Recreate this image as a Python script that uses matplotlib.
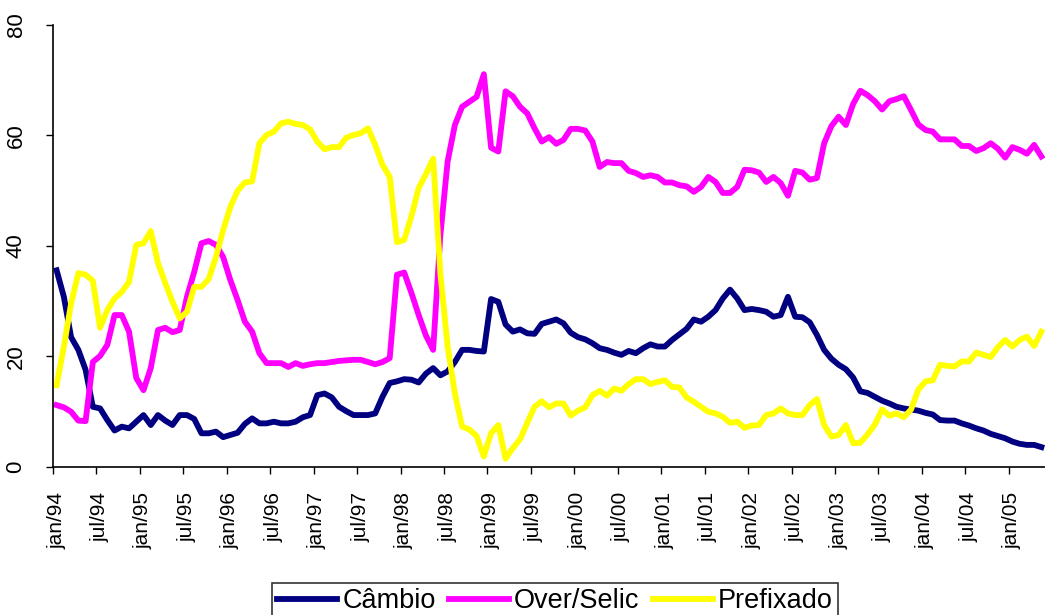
import matplotlib
matplotlib.use('Agg')
import matplotlib.pyplot as plt
import numpy as np

# monthly series, jan/94 .. may/05
cambio = [35.6, 30.8, 23.5, 21.2, 17.6, 10.9, 10.6, 8.5, 6.6, 7.3, 7.0, 8.2,
          9.4, 7.6, 9.4, 8.4, 7.6, 9.4, 9.4, 8.7, 6.1, 6.1, 6.4, 5.4,
          5.8, 6.2, 7.8, 8.8, 7.9, 7.9, 8.2, 7.9, 7.9, 8.2, 9.0, 9.4,
          13.0, 13.3, 12.6, 10.9, 10.1, 9.4, 9.4, 9.4, 9.7, 12.7, 15.2, 15.5,
          15.9, 15.8, 15.3, 16.9, 17.9, 16.6, 17.3, 19.0, 21.2, 21.2, 21.0, 20.9,
          30.4, 29.9, 25.8, 24.5, 24.9, 24.2, 24.1, 25.9, 26.3, 26.7, 26.0, 24.3,
          23.5, 23.1, 22.4, 21.5, 21.2, 20.7, 20.3, 21.0, 20.6, 21.5, 22.2, 21.8,
          21.8, 23.0, 24.0, 25.0, 26.7, 26.3, 27.2, 28.4, 30.5, 32.1, 30.5, 28.4,
          28.6, 28.4, 28.1, 27.2, 27.5, 30.8, 27.2, 27.1, 26.2, 23.9, 21.2, 19.6,
          18.5, 17.7, 16.2, 13.7, 13.4, 12.7, 12.0, 11.5, 10.9, 10.6, 10.4, 10.2,
          9.8, 9.5, 8.5, 8.4, 8.4, 7.9, 7.5, 7.0, 6.6, 6.0, 5.6, 5.2,
          4.6, 4.2, 4.0, 4.0, 3.6]

over_selic = [11.2, 10.8, 10.0, 8.4, 8.3, 19.0, 20.1, 22.1, 27.5, 27.5, 24.5, 16.1,
              13.9, 17.9, 24.8, 25.2, 24.4, 24.8, 30.8, 35.3, 40.5, 40.9, 40.2, 38.0,
              33.8, 30.2, 26.3, 24.5, 20.6, 18.8, 18.8, 18.8, 18.1, 18.8, 18.3, 18.6,
              18.8, 18.8, 19.0, 19.2, 19.3, 19.4, 19.4, 19.0, 18.6, 19.0, 19.7, 34.8,
              35.2, 31.5, 27.5, 23.8, 21.2, 42.0, 55.3, 61.9, 65.2, 66.1, 67.0, 71.1,
              57.8, 57.1, 68.0, 67.1, 65.2, 64.0, 61.3, 58.9, 59.7, 58.5, 59.2, 61.2,
              61.2, 60.9, 58.9, 54.3, 55.2, 55.0, 55.0, 53.6, 53.2, 52.5, 52.8, 52.5,
              51.5, 51.5, 51.0, 50.8, 49.8, 50.7, 52.5, 51.6, 49.6, 49.6, 50.7, 53.8,
              53.7, 53.3, 51.6, 52.5, 51.4, 49.1, 53.6, 53.3, 52.0, 52.3, 58.6, 61.7,
              63.4, 61.9, 65.7, 68.1, 67.3, 66.2, 64.7, 66.2, 66.6, 67.1, 64.6, 62.0,
              61.0, 60.7, 59.3, 59.3, 59.3, 58.1, 58.1, 57.2, 57.7, 58.6, 57.6, 56.0,
              57.9, 57.4, 56.7, 58.3, 56.2]

prefixado = [14.8, 21.8, 29.6, 35.1, 34.8, 33.7, 25.2, 28.4, 30.5, 31.7, 33.5, 40.2,
             40.5, 42.7, 36.9, 33.3, 29.9, 26.9, 28.1, 32.6, 32.6, 34.0, 38.0, 42.9,
             47.1, 50.0, 51.5, 51.7, 58.6, 60.1, 60.7, 62.2, 62.5, 62.1, 61.9, 61.1,
             58.9, 57.5, 57.9, 57.9, 59.6, 60.1, 60.4, 61.3, 58.3, 54.7, 52.5, 40.7,
             41.1, 45.4, 50.5, 53.0, 55.8, 35.0, 21.8, 13.3, 7.3, 6.8, 5.6, 1.9,
             6.1, 7.6, 1.5, 3.4, 5.0, 8.0, 10.9, 11.9, 10.8, 11.5, 11.5, 9.3,
             10.2, 10.8, 13.0, 13.8, 12.9, 14.2, 13.8, 15.0, 15.9, 15.9, 15.0, 15.4,
             15.7, 14.5, 14.4, 12.6, 11.8, 10.9, 10.0, 9.7, 9.1, 8.0, 8.2, 7.1,
             7.5, 7.6, 9.4, 9.7, 10.6, 9.7, 9.4, 9.4, 11.2, 12.3, 7.6, 5.5,
             5.8, 7.6, 4.3, 4.4, 5.9, 7.7, 10.4, 9.3, 9.7, 9.0, 10.4, 14.0,
             15.5, 15.7, 18.5, 18.3, 18.2, 19.1, 19.1, 20.7, 20.3, 19.9, 21.7, 23.0,
             21.8, 23.0, 23.6, 21.9, 24.5]

tick_labels = ['jan/94', 'jul/94', 'jan/95', 'jul/95', 'jan/96', 'jul/96',
               'jan/97', 'jul/97', 'jan/98', 'jul/98', 'jan/99', 'jul/99',
               'jan/00', 'jul/00', 'jan/01', 'jul/01', 'jan/02', 'jul/02',
               'jan/03', 'jul/03', 'jan/04', 'jul/04', 'jan/05']

series_names = ['Câmbio', 'Over/Selic', 'Prefixado']
series_colors = ['#000080', '#FF00FF', '#FFFF00']

plt.rcParams['font.family'] = ['Liberation Sans', 'DejaVu Sans']


def make_chart():
    fig = plt.figure(figsize=(10.45, 6.15), dpi=100)
    ax = fig.add_axes([53 / 1045, 148 / 615, 992 / 1045, 442 / 615])

    n = len(cambio)
    x = np.arange(n)
    for vals, name, color in zip([cambio, over_selic, prefixado], series_names, series_colors):
        ax.plot(x, vals, color=color, lw=4.2, label=name)

    ax.set_xlim(-0.5, n - 0.5)
    ax.set_ylim(0, 80)

    # labels on category centres, tick marks between categories (excel style)
    ax.set_xticks(np.arange(0, 6 * len(tick_labels), 6))
    ax.set_xticklabels(tick_labels, rotation=90, fontsize=15)
    ax.set_xticks(np.arange(-0.5, n, 6), minor=True)
    ax.tick_params(axis='x', which='major', length=0, pad=18)
    ax.tick_params(axis='x', which='minor', length=5, width=1, direction='out')

    ax.set_yticks([0, 20, 40, 60, 80])
    ax.set_yticklabels(['0', '20', '40', '60', '80'], rotation=90, va='center', fontsize=16)
    ax.tick_params(axis='y', length=5, width=1, direction='out', pad=14)

    ax.spines['top'].set_visible(False)
    ax.spines['right'].set_visible(False)
    ax.spines['left'].set_linewidth(1.2)
    ax.spines['bottom'].set_linewidth(1.2)

    leg = fig.legend(loc='upper center', bbox_to_anchor=(555 / 1045, 1 - 583 / 615),
                     bbox_transform=fig.transFigure, ncol=3, fontsize=19.5,
                     frameon=True, fancybox=False, edgecolor='black',
                     handlelength=2.2, handletextpad=0.2, columnspacing=0.5,
                     borderpad=0.2, borderaxespad=0)
    leg.get_frame().set_linewidth(1.2)

    fig.savefig('out.png', dpi=100)
    plt.close(fig)


if __name__ == '__main__':
    make_chart()
